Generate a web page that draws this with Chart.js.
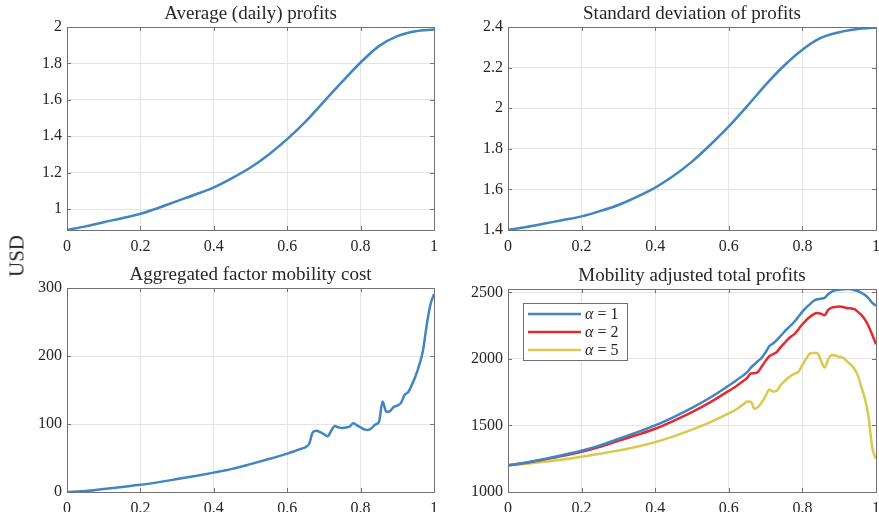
<!DOCTYPE html>
<html>
<head>
<meta charset="utf-8">
<script src="https://cdn.jsdelivr.net/npm/chart.js@4/dist/chart.umd.min.js"></script>
<style>
  body { margin: 0; background: #fff; }
  #wrap { position: relative; width: 879px; height: 512px; overflow: hidden; }
  canvas { position: absolute; }
  #usd {
    position: absolute; left: 17px; top: 256px;
    transform: translate(-50%, -50%) rotate(-90deg);
    font: 21px "Liberation Serif", serif; color: #262626; white-space: nowrap;
  }
</style>
</head>
<body>
<div id="wrap">
  <canvas id="avgChart" width="430" height="256" style="left:20px;top:0"></canvas>
  <canvas id="stdChart" width="430" height="256" style="left:460px;top:0"></canvas>
  <canvas id="costChart" width="430" height="256" style="left:20px;top:256px"></canvas>
  <canvas id="adjChart" width="430" height="256" style="left:460px;top:256px"></canvas>
  <div id="usd">USD</div>
</div>
<script>
// shares on the x axis
const gridX = [0, 0.05, 0.1, 0.15, 0.2, 0.25, 0.3, 0.35, 0.4, 0.45, 0.5,
  0.55, 0.6, 0.65, 0.7, 0.75, 0.8, 0.85, 0.9, 0.95, 1];

const avgProfit = [0.885, 0.905, 0.928, 0.95, 0.974, 1.007, 1.044, 1.08, 1.119, 1.17, 1.228,
  1.30, 1.384, 1.48, 1.59, 1.70, 1.805, 1.895, 1.95, 1.977, 1.986];

const stdProfit = [1.40, 1.415, 1.432, 1.449, 1.467, 1.493, 1.523, 1.563, 1.609, 1.667, 1.737,
  1.82, 1.91, 2.01, 2.115, 2.209, 2.288, 2.346, 2.374, 2.39, 2.398];

const costX = [0, 0.05, 0.1, 0.15, 0.2, 0.25, 0.3, 0.35, 0.4, 0.45, 0.5, 0.55, 0.6, 0.62, 0.64,
  0.65, 0.66, 0.67, 0.68, 0.69, 0.7, 0.71, 0.72, 0.73, 0.74, 0.75, 0.76, 0.77, 0.78, 0.79,
  0.8, 0.81, 0.82, 0.83, 0.84, 0.85, 0.86, 0.87, 0.88, 0.89, 0.9, 0.91, 0.92, 0.93, 0.94,
  0.95, 0.96, 0.97, 0.98, 0.99, 1];
const mobilityCost = [0, 1.5, 4.5, 7.5, 10.5, 14.5, 19, 23.5, 28.5, 34, 41, 48.5, 56.5, 60, 64,
  66, 71, 88, 90, 88, 85, 82, 90, 97, 95, 94, 95, 96, 101, 98,
  95, 92, 91, 94, 99, 103, 133, 118, 119, 125, 127, 131, 143, 147, 158,
  171, 187, 208, 245, 275, 291];

// adjusted profits share the same x points as the cost
const adjAlpha1 = [1200, 1222, 1248, 1278, 1310, 1350, 1398, 1448, 1500, 1563, 1632, 1710, 1800, 1838, 1878,
  1900, 1935, 1960, 1985, 2010, 2050, 2095, 2115, 2140, 2170, 2200, 2230, 2255, 2285, 2320,
  2355, 2385, 2410, 2435, 2448, 2452, 2458, 2485, 2505, 2515, 2520, 2523, 2525, 2525, 2518,
  2510, 2497, 2480, 2455, 2420, 2400];
const adjAlpha2 = [1200, 1220, 1245, 1272, 1302, 1340, 1385, 1428, 1475, 1535, 1600, 1675, 1760, 1795, 1835,
  1858, 1890, 1892, 1905, 1945, 1985, 2020, 2035, 2050, 2085, 2115, 2145, 2170, 2190, 2225,
  2260, 2290, 2315, 2335, 2345, 2340, 2328, 2368, 2385, 2390, 2393, 2390, 2383, 2380, 2375,
  2355, 2330, 2295, 2245, 2180, 2110];
const adjAlpha5 = [1200, 1213, 1228, 1245, 1265, 1288, 1312, 1340, 1375, 1418, 1468, 1525, 1590, 1620, 1660,
  1680, 1678, 1625, 1640, 1675, 1720, 1770, 1755, 1760, 1800, 1830, 1855, 1875, 1890, 1905,
  1955, 2000, 2040, 2045, 2045, 1990, 1935, 1995, 2030, 2025, 2015, 2010, 1985, 1960, 1930,
  1880, 1790, 1700, 1560, 1330, 1250];
const alphaLabels = ["α = 1", "α = 2", "α = 5"];

const xTicks = [0, 0.2, 0.4, 0.6, 0.8, 1];
const avgTicks = [1, 1.2, 1.4, 1.6, 1.8, 2];
const stdTicks = [1.4, 1.6, 1.8, 2, 2.2, 2.4];
const costTicks = [0, 100, 200, 300];
const adjTicks = [1000, 1500, 2000, 2500];

const BLUE = "#4185c2";
const RED = "#e42a2d";
const YELLOW = "#d9c94f";
const SERIF = "'Liberation Serif', 'Times New Roman', serif";
const TEXT = "#262626";

const pts = (xs, ys) => xs.map((x, i) => ({ x: x, y: ys[i] }));

// box round the plot with short inward ticks on all four sides
const framePlugin = {
  id: "frame",
  afterDraw(chart) {
    const { ctx, chartArea: a, scales } = chart;
    ctx.save();
    ctx.strokeStyle = "#727272";
    ctx.lineWidth = 1;
    ctx.beginPath();
    scales.x.ticks.forEach((t) => {
      const px = Math.round(scales.x.getPixelForValue(t.value)) + 0.5;
      ctx.moveTo(px, a.bottom); ctx.lineTo(px, a.bottom - 4);
      ctx.moveTo(px, a.top); ctx.lineTo(px, a.top + 4);
    });
    scales.y.ticks.forEach((t) => {
      const py = Math.round(scales.y.getPixelForValue(t.value)) + 0.5;
      ctx.moveTo(a.left, py); ctx.lineTo(a.left + 4, py);
      ctx.moveTo(a.right, py); ctx.lineTo(a.right - 4, py);
    });
    ctx.stroke();
    ctx.strokeRect(Math.round(a.left) + 0.5, Math.round(a.top) + 0.5,
      Math.round(a.right - a.left), Math.round(a.bottom - a.top));
    ctx.restore();
  },
};

// legend box in the upper left corner of the plot
const boxLegend = {
  id: "boxLegend",
  afterDraw(chart) {
    if (!chart.options.plugins.boxLegend) return;
    const { ctx, chartArea: a } = chart;
    const x0 = a.left + 15, y0 = a.top + 14, w = 104, h = 57;
    ctx.save();
    ctx.fillStyle = "#fff";
    ctx.fillRect(x0, y0, w, h);
    ctx.strokeStyle = "#6f6f6f";
    ctx.lineWidth = 1;
    ctx.strokeRect(Math.round(x0) + 0.5, Math.round(y0) + 0.5, w, h);
    chart.data.datasets.forEach((ds, i) => {
      const y = y0 + 11 + i * 18;
      ctx.strokeStyle = ds.borderColor;
      ctx.lineWidth = 2.5;
      ctx.beginPath();
      ctx.moveTo(x0 + 5, y);
      ctx.lineTo(x0 + 58, y);
      ctx.stroke();
      const [greek, rest] = [ds.label.slice(0, 1), ds.label.slice(1)];
      ctx.fillStyle = TEXT;
      ctx.textBaseline = "middle";
      ctx.font = "italic 16px " + SERIF;
      ctx.fillText(greek, x0 + 62, y + 1);
      const gw = ctx.measureText(greek).width;
      ctx.font = "16px " + SERIF;
      ctx.fillText(rest, x0 + 62 + gw, y + 1);
    });
    ctx.restore();
  },
};

function makeChart(id, opts) {
  const fixTicks = (list) => (scale) => {
    scale.ticks = list.map((v) => ({ value: v }));
  };
  return new Chart(document.getElementById(id), {
    type: "line",
    data: { datasets: opts.datasets },
    options: {
      responsive: false,
      animation: false,
      devicePixelRatio: 1,
      layout: { padding: { left: 0, right: opts.padRight, top: 0, bottom: 0 } },
      elements: {
        point: { radius: 0 },
        line: { borderWidth: 2.5, cubicInterpolationMode: "monotone" },
      },
      plugins: {
        legend: { display: false },
        tooltip: { enabled: false },
        boxLegend: opts.legend || false,
        title: {
          display: true,
          text: opts.title,
          fullSize: false,
          color: TEXT,
          font: { family: SERIF, size: 19, weight: "normal", lineHeight: 1.2 },
          padding: opts.titlePad,
        },
      },
      scales: {
        x: {
          type: "linear",
          min: 0,
          max: 1,
          afterBuildTicks: fixTicks(xTicks),
          afterFit: (s) => { s.height = opts.xHeight; },
          grid: { color: "#e4e4e4", drawTicks: false },
          border: { display: false },
          ticks: {
            padding: 7,
            color: TEXT,
            maxRotation: 0,
            font: { family: SERIF, size: 16 },
            callback: (v) => String(v),
          },
        },
        y: {
          min: opts.yMin,
          max: opts.yMax,
          afterBuildTicks: fixTicks(opts.yTicks),
          afterFit: (s) => { s.width = opts.yWidth; },
          grid: { color: "#e4e4e4", drawTicks: false },
          border: { display: false },
          ticks: {
            padding: 5,
            color: TEXT,
            font: { family: SERIF, size: 16 },
            callback: (v) => String(v),
          },
        },
      },
    },
    plugins: [framePlugin, boxLegend],
  });
}

makeChart("avgChart", {
  title: "Average (daily) profits",
  titlePad: { top: 2.5, bottom: 1.7 },
  padRight: 16, yWidth: 47, xHeight: 26,
  yMin: 0.885, yMax: 2, yTicks: avgTicks,
  datasets: [{ data: pts(gridX, avgProfit), borderColor: BLUE }],
});

makeChart("stdChart", {
  title: "Standard deviation of profits",
  titlePad: { top: 2.5, bottom: 1.7 },
  padRight: 14, yWidth: 48, xHeight: 26,
  yMin: 1.4, yMax: 2.4, yTicks: stdTicks,
  datasets: [{ data: pts(gridX, stdProfit), borderColor: BLUE }],
});

makeChart("costChart", {
  title: "Aggregated factor mobility cost",
  titlePad: { top: 7.6, bottom: 1.6 },
  padRight: 16, yWidth: 47, xHeight: 20,
  yMin: 0, yMax: 300, yTicks: costTicks,
  datasets: [{ data: pts(costX, mobilityCost), borderColor: BLUE }],
});

makeChart("adjChart", {
  title: "Mobility adjusted total profits",
  titlePad: { top: 8.2, bottom: 2 },
  padRight: 14, yWidth: 48, xHeight: 20,
  yMin: 1000, yMax: 2525, yTicks: adjTicks,
  legend: true,
  datasets: [
    { label: alphaLabels[0], data: pts(costX, adjAlpha1), borderColor: BLUE },
    { label: alphaLabels[1], data: pts(costX, adjAlpha2), borderColor: RED },
    { label: alphaLabels[2], data: pts(costX, adjAlpha5), borderColor: YELLOW },
  ],
});
</script>
</body>
</html>
